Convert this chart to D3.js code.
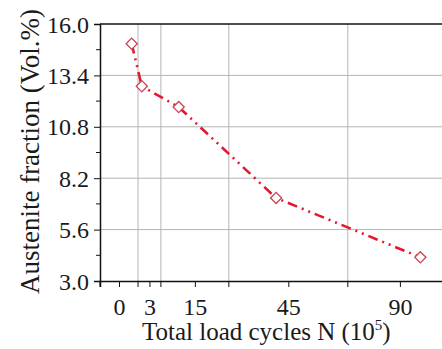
<!DOCTYPE html>
<html>
  <head>
    <meta charset="utf-8">
    <script src="https://unpkg.com/d3@7/dist/d3.min.js"></script>
    <style>
      body {
        margin: 0;
        background: #fff;
      }

      text {
        font-family: 'Liberation Serif', 'DejaVu Serif', serif;
        fill: #1a1a1a;
      }

      .grid line {
        stroke: #b4b4b4;
        stroke-width: 1px;
      }

      .axis path,
      .axis line {
        stroke: #111;
      }

      .line {
        fill: none;
        stroke: #e3182d;
        stroke-width: 2.6px;
        stroke-dasharray: 10 5 2 5 2 5;
      }

      .marker {
        fill: #fff;
        stroke: #c94455;
        stroke-width: 1.3px;
      }
    </style>
  </head>
  <body>
    <script>
      // load cycles (10^5) and retained austenite (vol.%)
      const cycles = [1, 2, 10, 41, 100];
      const austenite = [15.0, 12.85, 11.8, 7.2, 4.2];

      // x axis is broken into bands: labelled value in the middle, grid at the edges
      const xLabels = [0, 3, 15, 45, 90];
      const xBounds = [-1.5, 1.5, 4.5, 25.5, 64.5, 115.5];
      const xBandShare = [0.108, 0.065, 0.193, 0.338, 0.296];

      const yTicks = [3.0, 5.6, 8.2, 10.8, 13.4, 16.0];
      const yMinor = [4.3, 6.9, 9.5, 12.1, 14.7];

      const data = cycles.map((n, i) => ({n, v: austenite[i]}));

      const width = 442;
      const height = 349;
      const margin = {top: 24, right: -10, bottom: 68, left: 100};
      const plotW = width - margin.left - margin.right;
      const plotH = height - margin.top - margin.bottom;

      // build the piecewise scale from the bands
      const domain = [];
      const range = [];
      let acc = 0;
      xBandShare.forEach((s, i) => {
        domain.push(xBounds[i], xLabels[i]);
        range.push(acc * plotW, (acc + s / 2) * plotW);
        acc += s;
      });
      domain.push(xBounds[xBounds.length - 1]);
      range.push(acc * plotW);

      const x = d3.scaleLinear().domain(domain).range(range);
      const y = d3.scaleLinear().domain([3, 16]).range([plotH, 0]);

      const svg = d3.select('body')
        .append('svg')
        .attr('width', width)
        .attr('height', height);

      const g = svg.append('g')
        .attr('transform', `translate(${margin.left},${margin.top})`);

      // grid
      const grid = g.append('g').classed('grid', true);
      grid.selectAll('.gx')
        .data(xBounds.slice(1, -1))
        .enter()
        .append('line')
        .attr('x1', d => x(d))
        .attr('x2', d => x(d))
        .attr('y1', 0)
        .attr('y2', plotH);
      grid.selectAll('.gy')
        .data(yTicks.slice(1, -1))
        .enter()
        .append('line')
        .attr('x1', 0)
        .attr('x2', plotW)
        .attr('y1', d => y(d))
        .attr('y2', d => y(d));

      // frame top
      g.append('line')
        .attr('x1', 0)
        .attr('x2', plotW)
        .attr('y1', 0)
        .attr('y2', 0)
        .style('stroke', '#111')
        .style('stroke-width', 1.5);

      // x axis
      const xAxis = g.append('g')
        .classed('axis', true)
        .attr('transform', `translate(0,${plotH})`)
        .call(d3.axisBottom(x)
          .tickValues(xLabels)
          .tickSize(6)
          .tickFormat(d3.format('d')));
      xAxis.select('.domain').style('stroke-width', 1.5);
      xAxis.selectAll('text')
        .style('font-size', '24px')
        .attr('y', 12)
        .attr('dy', '0.9em');
      xAxis.selectAll('.bnd')
        .data(xBounds.slice(0, -1))
        .enter()
        .append('line')
        .attr('x1', d => x(d))
        .attr('x2', d => x(d))
        .attr('y2', 6)
        .style('stroke', '#111');

      // y axis
      const yAxis = g.append('g')
        .classed('axis', true)
        .call(d3.axisLeft(y)
          .tickValues(yTicks)
          .tickSize(6)
          .tickFormat(d3.format('.1f')));
      yAxis.select('.domain').style('stroke-width', 1.5);
      yAxis.selectAll('text')
        .style('font-size', '24px')
        .attr('x', -11)
        .attr('dy', '0.34em');
      yAxis.selectAll('.minor')
        .data(yMinor)
        .enter()
        .append('line')
        .attr('x1', -4)
        .attr('x2', 0)
        .attr('y1', d => y(d))
        .attr('y2', d => y(d))
        .style('stroke', '#111');

      // series
      const line = d3.line()
        .x(d => x(d.n))
        .y(d => y(d.v));

      g.append('path')
        .datum(data)
        .classed('line', true)
        .attr('d', line);

      g.selectAll('.marker')
        .data(data)
        .enter()
        .append('path')
        .classed('marker', true)
        .attr('d', d3.symbol(d3.symbolSquare, 62))
        .attr('transform', d => `translate(${x(d.n)},${y(d.v)}) rotate(45)`);

      // titles
      const xt = svg.append('text')
        .attr('x', margin.left + x(45) - 22)
        .attr('y', height - 9)
        .attr('text-anchor', 'middle')
        .style('font-size', '25px');
      xt.append('tspan').text('Total load cycles N (10');
      xt.append('tspan')
        .attr('dy', -10)
        .style('font-size', '15px')
        .text('5');
      xt.append('tspan')
        .attr('dy', 10)
        .text(')');

      svg.append('text')
        .attr('transform', `translate(39,${margin.top + plotH / 2 - 1}) rotate(-90)`)
        .attr('text-anchor', 'middle')
        .style('font-size', '27px')
        .text('Austenite fraction (Vol.%)');
    </script>
  </body>
</html>
